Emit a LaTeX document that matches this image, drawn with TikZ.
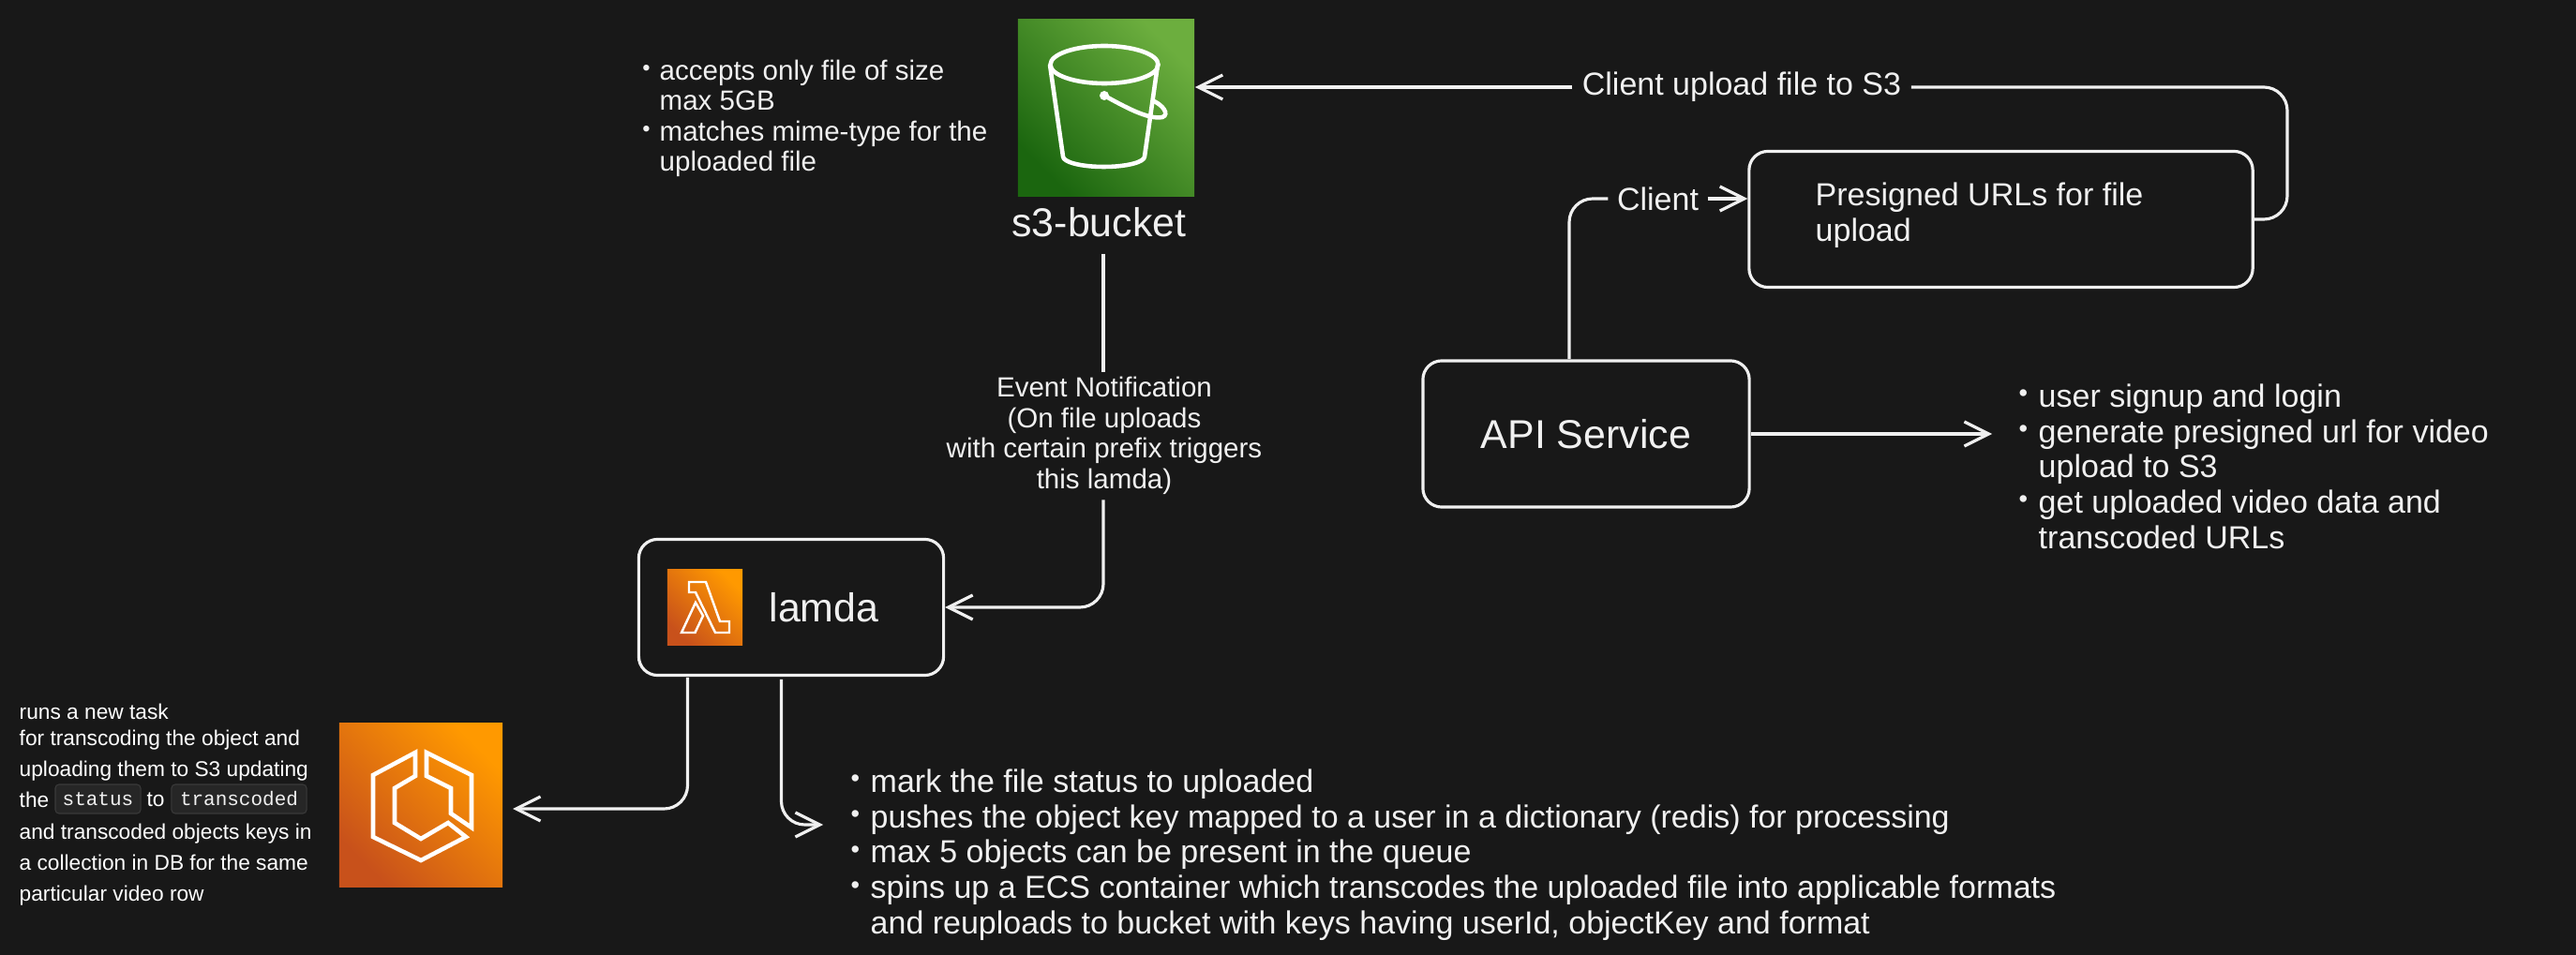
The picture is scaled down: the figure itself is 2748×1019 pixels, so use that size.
\documentclass[tikz,border=0pt]{standalone}
\usepackage{fontspec}
\setmainfont{Liberation Sans}
\setmonofont{Liberation Mono}
\usetikzlibrary{arrows.meta}
\definecolor{bgdark}{HTML}{181818}
\definecolor{inkwhite}{HTML}{F0F0F0}
\definecolor{chipfill}{HTML}{262626}
\definecolor{chipline}{HTML}{3A3A3A}
\definecolor{s3dark}{HTML}{1B660F}
\definecolor{s3light}{HTML}{6CAE3E}
\definecolor{awsdark}{HTML}{C8511B}
\definecolor{awslight}{HTML}{FF9900}
\newcommand{\bul}{\llap{\raisebox{.16em}{\scalebox{.8}{•}}\hspace{.34em}}}
\tikzset{
  >={Straight Barb[length=2.6mm,width=2.6mm]},
  conn/.style={line width=0.9pt,color=inkwhite},
  boxn/.style={draw=inkwhite,line width=0.9pt,rounded corners=0.2cm,inner sep=0pt,text=inkwhite},
  lbl/.style={text=inkwhite,inner sep=0pt,font=\fontsize{9.67pt}{10.72pt}\selectfont},
  bigl/.style={text=inkwhite,inner sep=0pt,font=\fontsize{12.2pt}{14pt}\selectfont},
  smalll/.style={text=inkwhite,inner sep=0pt,align=left,font=\fontsize{8.4pt}{9.25pt}\selectfont},
  tinyl/.style={text=white,inner sep=0pt,align=left,font=\fontsize{6.46pt}{9.39pt}\selectfont},
  chipn/.style={fill=chipfill,draw=chipline,line width=0.3pt,rounded corners=0.04cm,inner sep=0pt,
    minimum height=0.31cm,text=inkwhite,font=\fontsize{5.97pt}{7pt}\ttfamily},
  s3sq/.style={shading=axis,bottom color=s3dark,top color=s3light,shading angle=-45,minimum size=1.88cm,inner sep=0pt},
  awssq/.style={shading=axis,bottom color=awsdark,top color=awslight,shading angle=-45,inner sep=0pt},
  iconl/.style={draw=white,line width=1.3pt,line join=miter},
}

\begin{document}
\begin{tikzpicture}[x=0.01cm,y=-0.01cm]
  \useasboundingbox [fill=bgdark] (0,0) rectangle (2748,1019);
  % s3 bucket
  \node [s3sq] (s3) at (1180,115) {};
  \draw [iconl] (1178,69) ellipse [x radius=57.5,y radius=20];
  \draw [iconl] (1120,69) -- (1134,167) arc [start angle=180,end angle=360,x radius=43.5,y radius=-11] -- (1235,69);
  \fill [white] (1178,102) circle [radius=5];
  \draw [iconl] (1178,102) .. controls (1200,114) and (1225,128) .. (1240,125) .. controls (1248,122) and (1240,112) .. (1231,108);
  \node [bigl] (s3lab) at (1172.5,237) {s3-bucket};
  \node [smalll,anchor=north west] (s3notes) at (703,63) {\bul accepts only file of size\\max 5GB\\\bul matches mime-type for the\\uploaded file};
  % lamda
  \node [boxn,minimum width=3.25cm,minimum height=1.45cm] (lamda) at (844,648) {};
  \node [awssq,minimum size=0.8cm,minimum height=0.8cm] (lamdaicon) at (752,648) {};
  \draw [iconl,line width=0.7pt] (735,621) -- (753,621) -- (768,663) -- (778,663) -- (778,675) -- (763,675) -- (742,632) -- (735,632) -- cycle;
  \draw [iconl,line width=0.7pt] (742,643) -- (727,675) -- (741.5,675) -- (750,657) -- cycle;
  \node [bigl] (lamdatxt) at (879,648) {lamda};
  \coordinate (s3out) at (1177,271);
  \node [smalll,align=center,inner ysep=0.05cm] (evt) at (1178,465) {Event Notification\\(On file uploads\\with certain prefix triggers\\this lamda)};
  \draw [conn] (s3out) -- (s3out |- evt.north);
  \draw [conn,->,rounded corners=0.25cm] (s3out |- evt.south) |- (lamda.east);
  % ecs
  \node [awssq,minimum size=1.74cm] (ecs) at (449,859) {};
  \draw [iconl] (443,803) -- (398,827) -- (398,893) -- (449,918) -- (497,893) -- (478,878) -- (449,895) -- (421,878) -- (421,841) -- (443,828) -- cycle;
  \draw [iconl] (455,803) -- (503,827) -- (503,883) -- (481,868) -- (481,841) -- (455,828) -- cycle;
  \coordinate (ecsin) at (547,863);
  \coordinate (lamdaa) at (733.5,723);
  \draw [conn,->,rounded corners=0.25cm] (lamdaa) |- (ecsin);
  \coordinate (lamdab) at (833.5,725);
  \coordinate (notesin) at (878,880);
  \draw [conn,->,rounded corners=0.25cm] (lamdab) |- (notesin);
  \node [tinyl,anchor=north west] (ecsa) at (20,750) {runs a new task\\[-1.42pt]for transcoding the object and\\uploading them to S3 updating};
  \node [tinyl,anchor=west] (ecsthe) at (20,853) {the};
  \node [chipn,minimum width=0.91cm] (chipa) at (104.5,852.5) {status};
  \node [tinyl,anchor=center] (ecsto) at (166,853) {to};
  \node [chipn,minimum width=1.44cm] (chipb) at (255,852.5) {transcoded};
  \node [tinyl,anchor=north west] (ecsb) at (20,878) {and transcoded objects keys in\\a collection in DB for the same\\particular video row};
  \node [lbl,align=left,anchor=north west] (lamdanotes) at (928,820) {\bul mark the file status to uploaded\\\bul pushes the object key mapped to a user in a dictionary (redis) for processing\\\bul max 5 objects can be present in the queue\\\bul spins up a ECS container which transcodes the uploaded file into applicable formats\\and reuploads to bucket with keys having userId, objectKey and format};
  % api service
  \node [boxn,minimum width=3.48cm,minimum height=1.56cm,font=\fontsize{12.2pt}{14pt}\selectfont] (api) at (1692,463) {\raisebox{-1.5pt}{API Service}};
  \node [boxn,minimum width=5.37cm,minimum height=1.45cm] (presigned) at (2134.5,234) {};
  \node [lbl,align=left,anchor=north west] (presignedtxt) at (1936,194) {Presigned URLs for file\\upload};
  \node [lbl,inner xsep=0.09cm] (clientlab) at (1768.5,212) {Client};
  \coordinate (apiup) at (1674,383);
  \draw [conn,rounded corners=0.25cm] (apiup) |- (clientlab.west);
  \draw [conn,->] (clientlab.east) -- (clientlab.east -| presigned.west);
  \node [lbl,inner xsep=0.1cm] (uplab) at (1858,93) {Client upload file to S3};
  \coordinate (uptop) at (2440,93);
  \draw [conn,rounded corners=0.25cm] (presigned.east) -| (uptop) -- (uplab.east);
  \draw [conn,->] (uplab.west) -- (uplab.west -| s3.east);
  \coordinate (apiout) at (2125,463);
  \draw [conn,->] (api.east) -- (apiout);
  \node [lbl,align=left,anchor=north west] (apinotes) at (2174,409) {\bul user signup and login\\\bul generate presigned url for video\\upload to S3\\\bul get uploaded video data and\\transcoded URLs};
\end{tikzpicture}
\end{document}
